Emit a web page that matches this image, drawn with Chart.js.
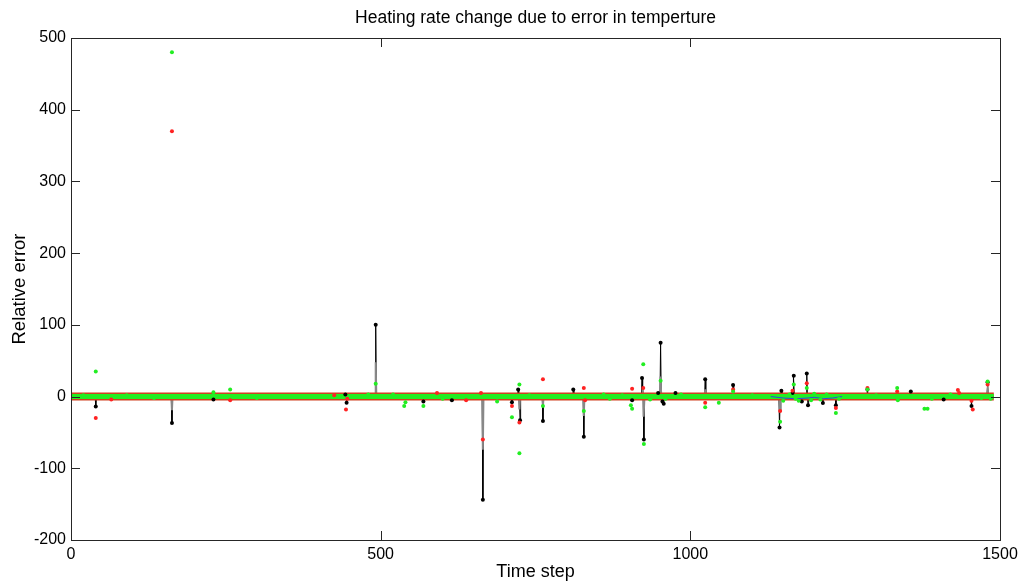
<!DOCTYPE html>
<html>
<head>
<meta charset="utf-8">
<script src="https://cdn.jsdelivr.net/npm/chart.js@4.4.1/dist/chart.umd.min.js"></script>
<style>
  html, body { margin: 0; background: #fff; }
  #wrap { width: 1028px; height: 585px; }
</style>
</head>
<body>
<div id="wrap"><canvas id="chart"></canvas></div>
<script>
// Axis ticks
const xTicks = [0, 500, 1000, 1500];
const yTicks = [-200, -100, 0, 100, 200, 300, 400, 500];
const lastStep = 1490;

// Black series: non-zero samples (zero everywhere else)
const blackSteps = [40, 163, 230, 443, 445, 492, 569, 615, 665, 712, 722, 725, 762, 811, 828, 906, 922, 925, 948, 952, 955, 957,
  976, 1024, 1069, 1144, 1147, 1165, 1167, 1180, 1188, 1190, 1214, 1235, 1286, 1356, 1409, 1454, 1480];
const blackValues = [-14, -37, -4, 3, -8.5, 100, -7, -5, -144, -8, 10, -33, -34, 10, -56, -5, 26, -60, 5, 75, -7, -10,
  5, 24, 16, -43, 8, 5, 29, -7, 32, -12, -9, -12, 10, 7, -4, -13, 20];

// Gray series: non-zero samples
const graySteps = [163, 492, 665, 724, 762, 828, 923, 925, 952, 1024, 1145, 1480];
const grayValues = [-19, 48, -74, -18, -13, -27, 11, -28, 28, 10, -20, 8];

// Red markers
const redSteps = [40, 65, 163, 257, 425, 444, 446, 591, 638, 662, 665, 712, 724, 762, 828, 830, 906, 924, 1024, 1069,
  1145, 1165, 1188, 1235, 1286, 1334, 1432, 1434, 1454, 1456, 1480];
const redValues = [-30, -4, 370, -5, 2, -18, -3, 5, -5, 5, -60, -13, -36, 24, 12, -5, 11, 12, -8.5, 10,
  -20, 8, 18.5, -16, 12, 7, 9, 5, -6, -18, 17];

// Green markers
const greenSteps = [20, 40, 90, 134, 163, 230, 257, 300, 480, 492, 520, 538, 540, 569, 600, 688, 712, 724, 724, 740, 762,
  828, 860, 870, 890, 904, 906, 924, 925, 935, 952, 960, 985, 1024, 1046, 1069, 1100, 1145, 1150, 1160, 1167, 1170,
  1175, 1188, 1195, 1200, 1210, 1220, 1235, 1240, 1286, 1300, 1334, 1335, 1378, 1383, 1390, 1420, 1470, 1480, 1485];
const greenValues = [2, 35, 2, -2, 480, 6, 10, -2, 3, 18, 3, -13, -8, -13, -3, -7, -29, 17, -79, 2, -13,
  -20, 3, -3, 2, -12, -17, 45, -66, -4, 22, -3, 3, -15, -8.5, 7, 2, -35, -6, 3, 17, -3,
  -6, 12, -5, 4, -4, 3, -23, -3, 10, 2, 12, -5, -17, -17, -3, 3, -2, 21, -3];

// Blue series (small drift near zero)
const blueSteps = [1130, 1150, 1170, 1190, 1200, 1215, 1230, 1245];
const blueValues = [0, -2, -3, -2, -1, -3, -2, 0];

function pairs(steps, values) {
  return steps.map((s, i) => ({ x: s, y: values[i] }));
}

// sparse series: zero between the listed samples
function sparseLine(steps, values) {
  const pts = [{ x: 0, y: 0 }];
  steps.forEach((s, i) => {
    pts.push({ x: s - 1, y: 0 }, { x: s, y: values[i] }, { x: s + 1, y: 0 });
  });
  pts.push({ x: lastStep, y: 0 });
  return pts.sort((a, b) => a.x - b.x);
}

const baseline = [{ x: 0, y: 0 }, { x: lastStep, y: 0 }];
const FONT = 'Liberation Sans, Arial, sans-serif';

const frame = {
  id: 'frame',
  afterDraw(chart) {
    const { ctx, chartArea: a, scales: { x, y } } = chart;
    ctx.save();
    ctx.strokeStyle = '#262626';
    ctx.lineWidth = 1;
    ctx.strokeRect(a.left + 0.5, a.top + 0.5, a.right - a.left, a.bottom - a.top);
    ctx.beginPath();
    xTicks.forEach(v => {
      const px = Math.round(x.getPixelForValue(v)) + 0.5;
      ctx.moveTo(px, a.bottom); ctx.lineTo(px, a.bottom - 9);
      ctx.moveTo(px, a.top); ctx.lineTo(px, a.top + 9);
    });
    yTicks.forEach(v => {
      const py = Math.round(y.getPixelForValue(v)) + 0.5;
      ctx.moveTo(a.left, py); ctx.lineTo(a.left + 9, py);
      ctx.moveTo(a.right, py); ctx.lineTo(a.right - 9, py);
    });
    ctx.stroke();
    ctx.restore();
  }
};

const markerR = 2;

new Chart(document.getElementById('chart'), {
  type: 'line',
  data: {
    datasets: [
      { label: 'green', data: pairs(greenSteps, greenValues), showLine: false, pointRadius: markerR,
        pointBackgroundColor: '#22ee22', pointBorderWidth: 0, order: 1 },
      { label: 'red', data: pairs(redSteps, redValues), showLine: false, pointRadius: markerR,
        pointBackgroundColor: '#ff2222', pointBorderWidth: 0, order: 2 },
      { label: 'black markers', data: pairs(blackSteps, blackValues), showLine: false, pointRadius: markerR,
        pointBackgroundColor: '#000', pointBorderWidth: 0, order: 3 },
      { label: 'blue', data: pairs(blueSteps, blueValues), borderColor: '#3344dd', borderWidth: 1,
        pointRadius: 0, order: 3.5 },
      { label: 'green band', data: baseline, borderColor: '#22ee22', borderWidth: 5, pointRadius: 0, order: 4 },
      { label: 'red band', data: baseline, borderColor: '#d04020', borderWidth: 8, pointRadius: 0, order: 6 },
      { label: 'gray', data: sparseLine(graySteps, grayValues), borderColor: '#888', borderWidth: 2,
        pointRadius: 0, order: 7 },
      { label: 'black', data: sparseLine(blackSteps, blackValues), borderColor: '#000', borderWidth: 1,
        pointRadius: 0, order: 8 }
    ]
  },
  options: {
    responsive: true,
    maintainAspectRatio: false,
    animation: false,
    layout: { padding: { left: 0, right: 28, top: 0, bottom: 0 } },
    plugins: {
      legend: { display: false },
      tooltip: { enabled: false },
      title: {
        display: true,
        fullSize: false,
        text: 'Heating rate change due to error in temperture',
        color: '#000',
        font: { family: FONT, size: 17.5, weight: 'normal' },
        padding: { top: 8, bottom: 9 }
      }
    },
    scales: {
      x: {
        type: 'linear', min: 0, max: 1500,
        afterBuildTicks: s => { s.ticks = xTicks.map(v => ({ value: v })); },
        afterFit: s => { s.height = 45; },
        grid: { display: false, drawTicks: false },
        border: { display: false },
        ticks: { color: '#000', padding: 5, maxRotation: 0, callback: v => String(v),
          font: { family: FONT, size: 16 } },
        title: { display: true, text: 'Time step', color: '#000',
          font: { family: FONT, size: 18 }, padding: { top: 0, bottom: 2 } }
      },
      y: {
        type: 'linear', min: -200, max: 500,
        afterBuildTicks: s => { s.ticks = yTicks.map(v => ({ value: v })); },
        afterFit: s => { s.width = 71; },
        grid: { display: false, drawTicks: false },
        border: { display: false },
        ticks: { color: '#000', padding: 5, callback: v => String(v),
          font: { family: FONT, size: 16 } },
        title: { display: true, text: 'Relative error', color: '#000',
          font: { family: FONT, size: 18.5 }, padding: { top: 9, bottom: 0 } }
      }
    }
  },
  plugins: [frame]
});
</script>
</body>
</html>
